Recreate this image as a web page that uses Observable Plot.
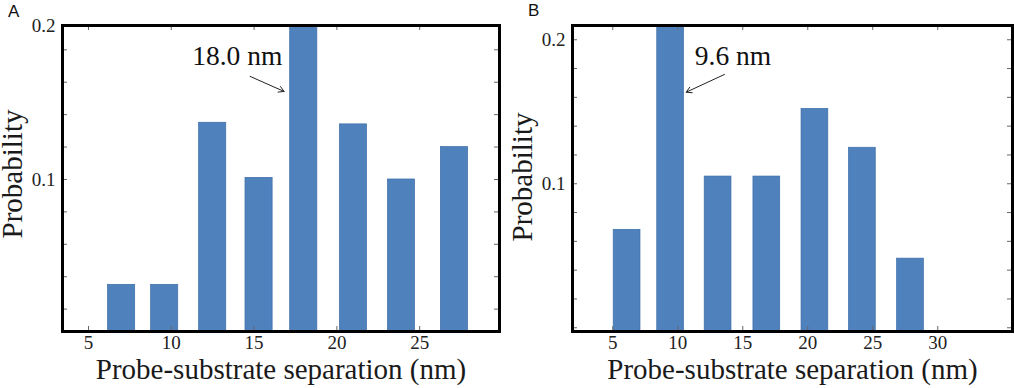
<!DOCTYPE html>
<html>
<head>
<meta charset="utf-8">
<script src="https://cdn.jsdelivr.net/npm/d3@7"></script>
<script src="https://cdn.jsdelivr.net/npm/@observablehq/plot@0.6"></script>
<style>
  html, body { margin: 0; padding: 0; background: #fff; }
  #wrap { position: relative; width: 1014px; height: 388px; overflow: hidden; }
  .panel { position: absolute; top: 0; }
  .plabel { position: absolute; font-family: "Liberation Sans", Arial, sans-serif; font-size: 17px; line-height: 1; color: #111; }
  svg text { font-family: "Liberation Serif", "Times New Roman", serif; }
</style>
</head>
<body>
<div id="wrap">
  <div class="plabel" style="left:8px; top:3px;">A</div>
  <div class="plabel" style="left:528px; top:2px;">B</div>
  <div id="pa" class="panel" style="left:0px;"></div>
  <div id="pb" class="panel" style="left:507px;"></div>
</div>
<script>
// ---- Data ----
const xTitle = "Probe-substrate separation (nm)";
const yTitle = "Probability";

// Panel A
const aCenters = [7.0, 9.6, 12.5, 15.3, 18.0, 21.0, 23.9, 27.1];
const aProb    = [0.035, 0.035, 0.135, 0.101, 0.21, 0.134, 0.100, 0.120];
const aXTicks  = [5, 10, 15, 20, 25];
const aAnnotText = "18.0 nm";
const aAnnotPos = [13.98, 0.176];
const aArrow = [14.76, 0.1636, 16.81, 0.1543];

// Panel B
const bCenters = [6.1, 9.45, 13.1, 16.85, 20.55, 24.2, 27.9];
const bProb    = [0.068, 0.22, 0.105, 0.105, 0.152, 0.125, 0.048];
const bXTicks  = [5, 10, 15, 20, 25, 30];
const bAnnotText = "9.6 nm";
const bAnnotPos = [14.25, 0.1884];
const bArrow = [13.59, 0.1759, 10.65, 0.1636];

// Shared y ticks
const yLabelTicks = [0.1, 0.2];
const yMinorTicks = [0, 0.02, 0.04, 0.06, 0.08, 0.1, 0.12, 0.14, 0.16, 0.18, 0.2];

const SERIF = "'Liberation Serif', 'Times New Roman', serif";

function panel({centers, probs, halfWidth, xDomain, yDomain, xTicks, ml, mr, annText, annPos, arrow, ytDx, ytDy}) {
  const W = 507, H = 388, mt = 25, mb = 57;
  const fw = W - ml - mr, fh = H - mt - mb;
  const data = centers.map((c, i) => ({x: c, p: probs[i]}));
  const minor = yMinorTicks.filter(v => v >= yDomain[0] && v <= yDomain[1]);
  const tickLen = 5;
  const base = yDomain[0];
  return Plot.plot({
    width: W, height: H,
    marginLeft: ml, marginRight: mr, marginTop: mt, marginBottom: mb,
    style: {fontFamily: SERIF, fontSize: "19px", color: "#222", background: "transparent", overflow: "visible"},
    x: {domain: xDomain, axis: null},
    y: {domain: yDomain, clamp: true, axis: null},
    marks: [
      Plot.rect(data, {x1: d => d.x - halfWidth, x2: d => d.x + halfWidth, y1: () => base, y2: "p", fill: "#4f81bd", stroke: "#3d6ea8", strokeWidth: 0.7}),
      Plot.tickX(xTicks, {x: d => d, insetTop: fh - tickLen, stroke: "#666"}),
      Plot.tickX(xTicks, {x: d => d, insetBottom: fh - tickLen, stroke: "#666"}),
      Plot.tickY(minor, {y: d => d, insetRight: fw - tickLen, stroke: "#666"}),
      Plot.tickY(minor, {y: d => d, insetLeft: fw - tickLen, stroke: "#666"}),
      Plot.axisX(xTicks, {tickSize: 0, tickPadding: 3.5, label: null, fill: "#222", fontFamily: SERIF, fontSize: 19}),
      Plot.axisY(yLabelTicks, {tickSize: 0, tickPadding: 7, label: null, tickFormat: d3.format(".1f"), fill: "#222", fontFamily: SERIF, fontSize: 19}),
      Plot.frame({stroke: "#000", strokeWidth: 3}),
      Plot.text([xTitle], {frameAnchor: "bottom", textAnchor: "middle", lineAnchor: "middle", dy: 38.7, fontSize: 29, fontFamily: SERIF, fill: "#1a1a1a", text: d => d}),
      Plot.text([yTitle], {frameAnchor: "left", textAnchor: "middle", lineAnchor: "middle", rotate: -90, dx: ytDx, dy: ytDy, fontSize: 29, fontFamily: SERIF, fill: "#1a1a1a", text: d => d}),
      Plot.text([annText], {x: () => annPos[0], y: () => annPos[1], text: d => d, fontSize: 27.5, fontFamily: SERIF, fill: "#111"}),
      Plot.arrow([arrow], {x1: d => d[0], y1: d => d[1], x2: d => d[2], y2: d => d[3], stroke: "#222", strokeWidth: 1, headLength: 9})
    ]
  });
}

document.getElementById("pa").appendChild(panel({
  centers: aCenters, probs: aProb, halfWidth: 0.82,
  xDomain: [3.43, 29.82], yDomain: [0.0062, 0.195], xTicks: aXTicks,
  ml: 62, mr: 8, annText: aAnnotText, annPos: aAnnotPos, arrow: aArrow,
  ytDx: -49.3, ytDy: -4.5
}));
document.getElementById("pb").appendChild(panel({
  centers: bCenters, probs: bProb, halfWidth: 1.03,
  xDomain: [1.9, 35.75], yDomain: [-0.0026, 0.2099], xTicks: bXTicks,
  ml: 65, mr: 2, annText: bAnnotText, annPos: bAnnotPos, arrow: bArrow,
  ytDx: -49.3, ytDy: -1.5
}));
</script>
</body>
</html>
